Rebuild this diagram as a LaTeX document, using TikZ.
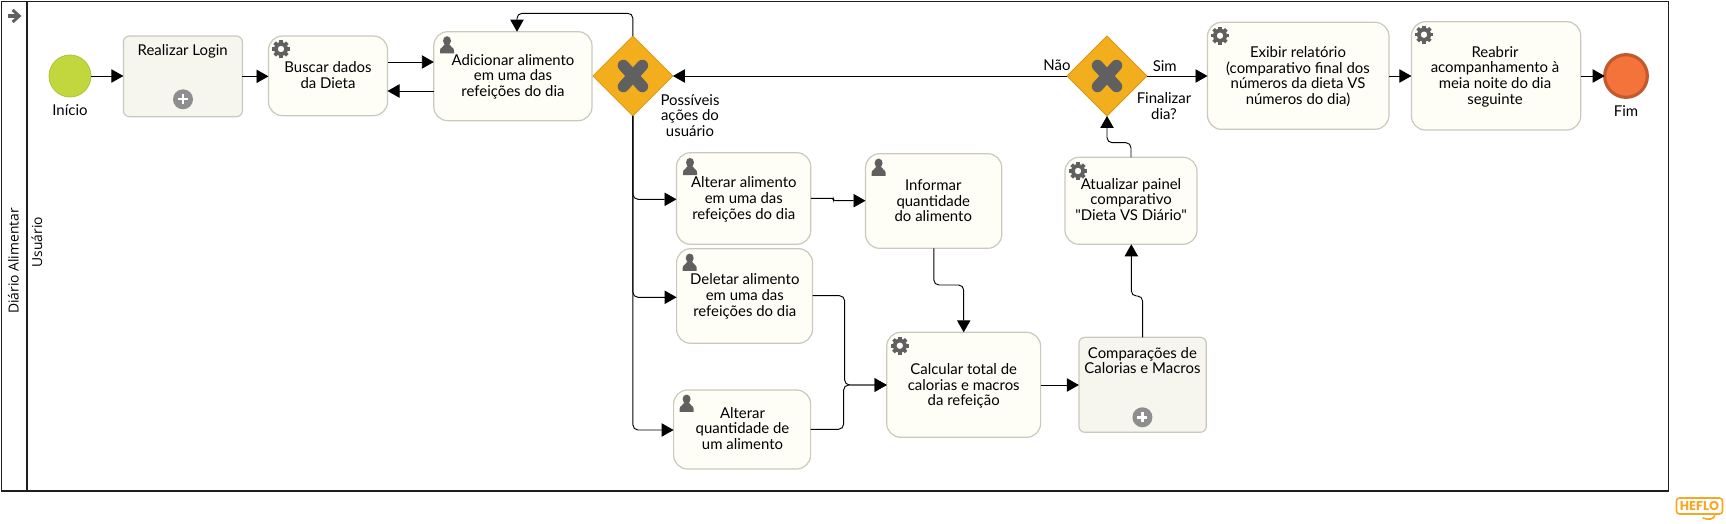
\documentclass[tikz,border=0pt]{standalone}
\usepackage{fontspec}
\setmainfont{Lato}
\newfontfamily\swimfont{Open Sans}
\newfontfamily\logofont{Poppins}
\newfontfamily\quotefont{Lato}[Ligatures=TeXOff]
\usetikzlibrary{arrows.meta,shapes.geometric}
\definecolor{taskfill}{HTML}{FEFEF6}
\definecolor{taskline}{HTML}{C9C9BD}
\definecolor{subfill}{HTML}{F6F5EE}
\definecolor{gatefill}{HTML}{F2AE1C}
\definecolor{gateline}{HTML}{D9961A}
\definecolor{startfill}{HTML}{C2D63E}
\definecolor{startline}{HTML}{AFC23C}
\definecolor{endfill}{HTML}{F4733A}
\definecolor{endline}{HTML}{C35A2E}
\definecolor{icongray}{HTML}{606060}
\definecolor{plusgray}{HTML}{8E8E8E}
\definecolor{heflo}{HTML}{F7A823}
\definecolor{pool}{HTML}{1E1E1E}
\tikzset{
  x=.75pt,y=-.75pt,
  task/.style={draw=taskline,fill=taskfill,line width=.9pt,rounded corners=10.5pt,inner sep=0pt,outer sep=0pt},
  subtask/.style={draw=taskline,fill=subfill,line width=.9pt,rounded corners=4.5pt,inner sep=0pt,outer sep=0pt},
  gate/.style={diamond,aspect=1,draw=gateline,fill=gatefill,line width=.6pt,inner sep=0pt,outer sep=0pt,minimum size=60pt},
  startev/.style={circle,draw=startline,fill=startfill,line width=.6pt,inner sep=0pt,outer sep=0pt,minimum size=31.5pt},
  endev/.style={circle,draw=endline,fill=endfill,line width=2.4pt,inner sep=0pt,outer sep=0pt,minimum size=32pt},
  txt/.style={align=center,inner sep=0pt,font=\fontsize{11.2pt}{11.8pt}\selectfont},
  flow/.style={draw=black,line width=.7pt,rounded corners=3.8pt,-{Triangle[length=9pt,width=10pt]}},
  pics/gear/.style={code={
    \draw[icongray,line width=2.9pt] (0,0) circle[radius=5.4];
    \foreach \a in {0,45,...,315}{\draw[icongray,line width=2.7pt] (\a:5.4) -- (\a:9);}
  }},
  pics/user/.style={code={
    \fill[icongray] (0,-4.2) ellipse[x radius=4,y radius=4.6];
    \fill[icongray] (-7,8.5) -- (-7,5.5) .. controls (-7,2) and (-3,2.5) .. (-2,-1) -- (2,-1) .. controls (3,2.5) and (7,2) .. (7,5.5) -- (7,8.5) -- cycle;
  }},
  pics/plusmark/.style={code={
    \fill[plusgray] (0,0) circle[radius=10];
    \draw[white,line width=1.8pt] (-5,0) -- (5,0) (0,-5) -- (0,5);
  }},
  pics/xmark/.style={code={
    \draw[icongray,line width=8.6pt,line cap=round] (-9.5,-10.5) -- (9.5,10.5) (-9.5,10.5) -- (9.5,-10.5);
  }},
}
\newcommand\flowbox[6]{%
  \pgfmathsetmacro\bw{(#5-#3)*0.75}\pgfmathsetmacro\bh{(#6-#4)*0.75}%
  \node[#2,minimum width=\bw pt,minimum height=\bh pt] (#1) at ({(#3+#5)/2},{(#4+#6)/2}) {};}
\begin{document}
\begin{tikzpicture}
\useasboundingbox (0,0) rectangle (1726,524);
% pool
\draw[pool,line width=.9pt] (1.5,1.5) rectangle (1668.5,491);
\draw[pool,line width=.9pt] (27,1.5) -- (27,491);
\draw[icongray,line width=2.6pt,-{Straight Barb[length=5pt,width=9pt,line width=2.2pt]}] (7.5,16) -- (21.5,16);
\node[rotate=90,inner sep=0pt,font=\swimfont\fontsize{10.4pt}{12pt}\selectfont] (poolname) at (13.5,261) {Diário Alimentar};
\node[rotate=90,inner sep=0pt,font=\swimfont\fontsize{10.4pt}{12pt}\selectfont] (lanename) at (37,242) {Usuário};
% events
\node[startev] (start) at (70,76) {};
\node[endev] (fim) at (1626,76) {};
\node[txt] (startt) at (70,110) {Início};
\node[txt] (fimt) at (1626,111) {Fim};
% tasks
\flowbox{login}{subtask}{123.4}{36}{242.4}{116.7}
\flowbox{buscar}{task}{268.5}{36}{387.5}{115.7}
\flowbox{adic}{task}{433.8}{31.7}{592}{120.7}
\flowbox{alter}{task}{676.5}{152.7}{810.8}{244.3}
\flowbox{info}{task}{865.5}{153.7}{1001.8}{248.3}
\flowbox{atual}{task}{1065}{157.3}{1197}{244.3}
\flowbox{exib}{task}{1207.5}{22.3}{1389}{129.3}
\flowbox{reab}{task}{1411.4}{21.7}{1580.7}{130}
\flowbox{del}{task}{676.6}{248.7}{812.5}{343.3}
\flowbox{qtd}{task}{673.6}{390}{810.6}{469}
\flowbox{calc}{task}{886.7}{332.3}{1040.6}{437.3}
\flowbox{comp}{subtask}{1078.9}{337.3}{1206.3}{432.3}
% gateways
\node[gate] (gwa) at (632.9,76) {};
\node[gate] (gwb) at (1107,76) {};
\pic at (gwa) {xmark};
\pic at (gwb) {xmark};
% task texts
\node[txt] (logint) at (182.7,51.5) {Realizar Login};
\node[txt] (buscart) at (328,75) {Buscar dados\\da Dieta};
\node[txt] (adict) at (513,76.7) {Adicionar alimento\\em uma das\\refeições do dia};
\node[txt] (altert) at (743.8,199.5) {Alterar alimento\\em uma das\\refeições do dia};
\node[txt] (infot) at (933.3,200.7) {Informar\\quantidade\\do alimento};
\node[txt] (atualt) at (1131,199.5) {Atualizar painel\\comparativo\\{\quotefont"Dieta VS Diário"}};
\node[txt] (exibt) at (1298,76.5) {Exibir relatório\\(comparativo final dos\\números da dieta VS\\números do dia)};
\node[txt] (reabt) at (1495,76.5) {Reabrir\\acompanhamento à\\meia noite do dia\\seguinte};
\node[txt] (delt) at (744.8,296.5) {Deletar alimento\\em uma das\\refeições do dia};
\node[txt] (qtdt) at (742.5,428.5) {Alterar\\quantidade de\\um alimento};
\node[txt] (calct) at (963.7,386) {Calcular total de\\calorias e macros\\da refeição};
\node[txt] (compt) at (1142.4,360.5) {Comparações de\\Calorias e Macros};
% labels
\node[txt] (possiveis) at (690,115.5) {Possíveis\\ações do\\usuário};
\node[txt] (nao) at (1057,65) {Não};
\node[txt] (sim) at (1164.7,66) {Sim};
\node[txt] (finalizar) at (1164,106) {Finalizar\\dia?};
% icons
\pic at (183,99.3) {plusmark};
\pic at (1142.4,417.3) {plusmark};
\pic at (281,49) {gear};
\pic at (899.8,345.7) {gear};
\pic at (1078,171) {gear};
\pic at (1220,35.7) {gear};
\pic at (1424,34.7) {gear};
\pic at (447,45) {user};
\pic at (690,166.7) {user};
\pic at (878.6,167.3) {user};
\pic at (689.7,262.3) {user};
\pic at (686.6,403.3) {user};
% connectors
\draw[flow] (start.east) -- (start.east -| login.west);
\draw[flow] (login.east) -- (login.east -| buscar.west);
\draw[flow] (buscar.east |- 0,62) -- (adic.west |- 0,62);
\draw[flow] (adic.west |- 0,91) -- (buscar.east |- 0,91);
\draw[flow] (gwa.north) -- (gwa.north |- 0,13.3) -- (517,13.3) -- (517,0 |- adic.north);
\draw[flow] (gwa.south) -- (gwa.south |- 0,199.3) -- (alter.west |- 0,199.3);
\draw[flow] (gwa.south) -- (gwa.south |- 0,297.3) -- (del.west |- 0,297.3);
\draw[flow] (gwa.south) -- (gwa.south |- 0,430) -- (qtd.west |- 0,430);
\draw[flow,rounded corners=1.5pt] (alter.east |- 0,198.3) -- (833.4,198.3) -- (833.4,200.7) -- (info.west |- 0,200.7);
\draw[flow] (del.east |- 0,295.7) -- (844.6,295.7) -- (844.6,385) -- (calc.west |- 0,385);
\draw[flow] (qtd.east |- 0,429.3) -- (843.6,429.3) -- (843.6,385) -- (calc.west |- 0,385);
\draw[flow] (933.8,0 |- info.south) -- (933.8,285) -- (963.7,285) -- (963.7,0 |- calc.north);
\draw[flow] (calc.east |- 0,385) -- (comp.west |- 0,385);
\draw[flow] (comp.north) -- (comp.north |- 0,296) -- (1131.3,296) -- (1131.3,0 |- atual.south);
\draw[flow] (atual.north) -- (atual.north |- 0,142.7) -- (gwb.south |- 0,142.7) -- (gwb.south);
\draw[flow] (gwb.west) -- (gwa.east);
\draw[flow] (gwb.east) -- (gwb.east -| exib.west);
\draw[flow] (exib.east |- 0,76) -- (reab.west |- 0,76);
\draw[flow] (reab.east |- 0,76) -- (fim.west);
% logo
\node[draw=heflo,line width=1.2pt,rounded corners=2.2pt,inner sep=0pt,minimum width=34.5pt,minimum height=12pt,text=heflo,font=\logofont\bfseries\fontsize{9.6pt}{9pt}\selectfont] (logo) at (1699.5,506) {HEFLO};
\draw[heflo,line width=1.2pt,line cap=round] (1715,514) .. controls (1715,520) and (1708,520) .. (1703,518);
\end{tikzpicture}
\end{document}
